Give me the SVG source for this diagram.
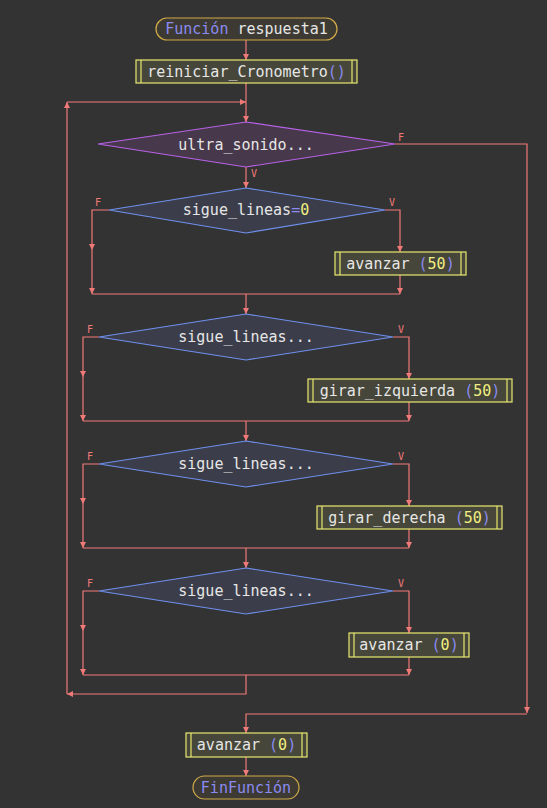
<svg xmlns="http://www.w3.org/2000/svg" width="547" height="808" viewBox="0 0 547 808">
<style>
.c{fill:none;stroke:#f07a78;stroke-width:1.2}
.t{font-family:"DejaVu Sans Mono","Liberation Mono",monospace;font-size:15px;fill:#e6e6e6;text-anchor:middle;dominant-baseline:central}
.k{fill:#8a8af0}
.n{fill:#f0ee80}
.p{fill:#8a8af0}
.lb{font-family:"DejaVu Sans Mono","Liberation Mono",monospace;font-size:10px;fill:#f07a78}
.term{fill:#3d3a33;stroke:#d2aa48;stroke-width:1.2}
.proc{fill:#46463a;stroke:#e8e870;stroke-width:1.2}
.pl{stroke:#e8e870;stroke-width:1.2}
.d1{fill:#47394b;stroke:#b862e8;stroke-width:1.2}
.d2{fill:#3b3e4a;stroke:#6f90ef;stroke-width:1.2}
</style>
<defs>
<marker id="a" markerUnits="userSpaceOnUse" markerWidth="8" markerHeight="8" refX="6" refY="3" orient="auto">
<path d="M0,0 L6,3 L0,6 z" fill="#f07a78"/>
</marker>
</defs>
<rect width="547" height="808" fill="#333333"/>
<g id="connectors">
<path class="c" d="M246,40 V60" marker-end="url(#a)"/>
<path class="c" d="M246,83 V122" marker-end="url(#a)"/>
<path class="c" d="M395,144 H527 V713" marker-end="url(#a)"/>
<path class="c" d="M527,714 H246 V733" marker-end="url(#a)"/>
<path class="c" d="M246,167 V188" marker-end="url(#a)"/>
<path class="c" d="M109,210 H92 V250" marker-end="url(#a)"/>
<path class="c" d="M92,250 V294" marker-end="url(#a)"/>
<path class="c" d="M385,210 H400 V252" marker-end="url(#a)"/>
<path class="c" d="M400,275 V294" marker-end="url(#a)"/>
<path class="c" d="M92,294 H400"/>
<path class="c" d="M246,294 V314" marker-end="url(#a)"/>
<path class="c" d="M99,337 H83 V377" marker-end="url(#a)"/>
<path class="c" d="M83,377 V421" marker-end="url(#a)"/>
<path class="c" d="M393,337 H409 V379" marker-end="url(#a)"/>
<path class="c" d="M409,402 V421" marker-end="url(#a)"/>
<path class="c" d="M83,421 H409"/>
<path class="c" d="M246,421 V441" marker-end="url(#a)"/>
<path class="c" d="M99,464 H83 V504" marker-end="url(#a)"/>
<path class="c" d="M83,504 V548" marker-end="url(#a)"/>
<path class="c" d="M393,464 H409 V506" marker-end="url(#a)"/>
<path class="c" d="M409,529 V548" marker-end="url(#a)"/>
<path class="c" d="M83,548 H409"/>
<path class="c" d="M246,548 V568" marker-end="url(#a)"/>
<path class="c" d="M99,591 H83 V631" marker-end="url(#a)"/>
<path class="c" d="M83,631 V675" marker-end="url(#a)"/>
<path class="c" d="M393,591 H409 V633" marker-end="url(#a)"/>
<path class="c" d="M409,657 V675" marker-end="url(#a)"/>
<path class="c" d="M83,675 H409"/>
<path class="c" d="M246,675 V694 H67" marker-end="url(#a)"/>
<path class="c" d="M67,694 V102" marker-end="url(#a)"/>
<path class="c" d="M67,102 H246" marker-end="url(#a)"/>
<path class="c" d="M246,757 V776" marker-end="url(#a)"/>
<text class="lb" x="398" y="141">F</text>
<text class="lb" x="251" y="177">V</text>
<text class="lb" x="95" y="206">F</text>
<text class="lb" x="389" y="206">V</text>
<text class="lb" x="87" y="333">F</text>
<text class="lb" x="398" y="333">V</text>
<text class="lb" x="87" y="460">F</text>
<text class="lb" x="398" y="460">V</text>
<text class="lb" x="87" y="587">F</text>
<text class="lb" x="398" y="587">V</text>
</g>
<g id="start">
<rect class="term" x="156" y="18" width="181" height="22" rx="11"/>
<text class="t" x="246.5" y="29"><tspan class="k">Función</tspan> respuesta1</text>
</g>
<g id="reiniciar">
<rect class="proc" x="136" y="60" width="221" height="23"/>
<line class="pl" x1="141" y1="60" x2="141" y2="83"/>
<line class="pl" x1="352" y1="60" x2="352" y2="83"/>
<text class="t" x="246.5" y="71.5">reiniciar_Cronometro<tspan class="p">()</tspan></text>
</g>
<g id="ultra">
<polygon class="d1" points="246,122 395,144 246,167 98,144"/>
<text class="t" x="246" y="145">ultra_sonido...</text>
</g>
<g id="sigue1">
<polygon class="d2" points="246,188 385,210 246,233 109,210"/>
<text class="t" x="246" y="210">sigue_lineas<tspan class="p">=</tspan><tspan class="n">0</tspan></text>
</g>
<g id="avanzar50">
<rect class="proc" x="335" y="252" width="131" height="23"/>
<line class="pl" x1="340" y1="252" x2="340" y2="275"/>
<line class="pl" x1="461" y1="252" x2="461" y2="275"/>
<text class="t" x="400.5" y="263.5">avanzar <tspan class="p">(</tspan><tspan class="n">50</tspan><tspan class="p">)</tspan></text>
</g>
<g id="sigue2">
<polygon class="d2" points="246,314 393,337 246,360 99,337"/>
<text class="t" x="246" y="337">sigue_lineas...</text>
</g>
<g id="izquierda">
<rect class="proc" x="308" y="379" width="204" height="23"/>
<line class="pl" x1="313" y1="379" x2="313" y2="402"/>
<line class="pl" x1="507" y1="379" x2="507" y2="402"/>
<text class="t" x="410" y="390.5">girar_izquierda <tspan class="p">(</tspan><tspan class="n">50</tspan><tspan class="p">)</tspan></text>
</g>
<g id="sigue3">
<polygon class="d2" points="246,441 393,464 246,487 99,464"/>
<text class="t" x="246" y="464">sigue_lineas...</text>
</g>
<g id="derecha">
<rect class="proc" x="317" y="506" width="185" height="23"/>
<line class="pl" x1="322" y1="506" x2="322" y2="529"/>
<line class="pl" x1="497" y1="506" x2="497" y2="529"/>
<text class="t" x="409.5" y="517.5">girar_derecha <tspan class="p">(</tspan><tspan class="n">50</tspan><tspan class="p">)</tspan></text>
</g>
<g id="sigue4">
<polygon class="d2" points="246,568 393,591 246,614 99,591"/>
<text class="t" x="246" y="591">sigue_lineas...</text>
</g>
<g id="avanzar0a">
<rect class="proc" x="349" y="633" width="120" height="24"/>
<line class="pl" x1="354" y1="633" x2="354" y2="657"/>
<line class="pl" x1="464" y1="633" x2="464" y2="657"/>
<text class="t" x="409" y="645">avanzar <tspan class="p">(</tspan><tspan class="n">0</tspan><tspan class="p">)</tspan></text>
</g>
<g id="avanzar0b">
<rect class="proc" x="186" y="733" width="121" height="24"/>
<line class="pl" x1="191" y1="733" x2="191" y2="757"/>
<line class="pl" x1="302" y1="733" x2="302" y2="757"/>
<text class="t" x="246.5" y="745">avanzar <tspan class="p">(</tspan><tspan class="n">0</tspan><tspan class="p">)</tspan></text>
</g>
<g id="fin">
<rect class="term" x="193" y="776" width="106" height="23" rx="11.5"/>
<text class="t k" x="246" y="787.5">FinFunción</text>
</g>
</svg>
